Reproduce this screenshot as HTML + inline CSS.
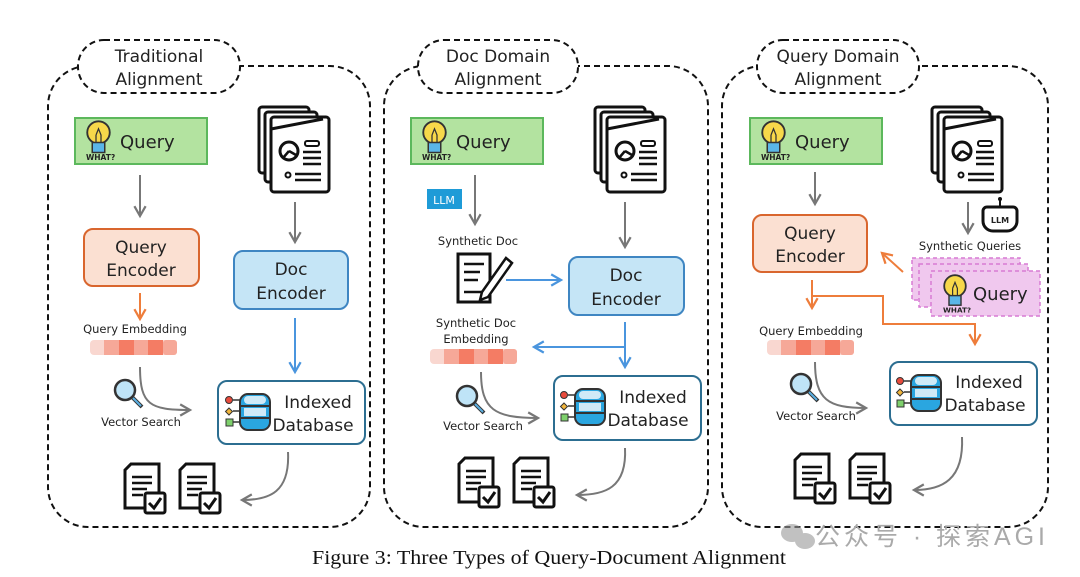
<!DOCTYPE html>
<html><head><meta charset="utf-8"><style>
html,body{margin:0;padding:0;background:#fff;width:1080px;height:577px;overflow:hidden}
svg text{font-family:"DejaVu Sans","Liberation Sans",sans-serif;fill:#222}
</style></head><body>
<svg width="1080" height="577" viewBox="0 0 1080 577" xmlns="http://www.w3.org/2000/svg">
<defs>
<marker id="ag" viewBox="0 0 10 10" refX="8" refY="5" markerWidth="7" markerHeight="7" orient="auto"><path d="M1,1 L8,5 L1,9" fill="none" stroke="#777" stroke-width="1.6"/></marker>
<marker id="ao" viewBox="0 0 10 10" refX="8" refY="5" markerWidth="7" markerHeight="7" orient="auto"><path d="M1,1 L8,5 L1,9" fill="none" stroke="#ee7d3b" stroke-width="1.6"/></marker>
<marker id="ab" viewBox="0 0 10 10" refX="8" refY="5" markerWidth="7" markerHeight="7" orient="auto"><path d="M1,1 L8,5 L1,9" fill="none" stroke="#4a95de" stroke-width="1.6"/></marker>
<g id="docs">
<rect x="2" y="2" width="50" height="66" rx="3" fill="#fff" stroke="#111" stroke-width="3"/>
<rect x="8" y="7" width="52" height="70" rx="3" fill="#fff" stroke="#111" stroke-width="3"/>
<rect x="14" y="12" width="58" height="75" rx="3" fill="#fff" stroke="#111" stroke-width="3"/>
<path d="M14,24 L66,14" stroke="#111" stroke-width="3" fill="none"/>
<circle cx="32" cy="46" r="9" fill="none" stroke="#111" stroke-width="3"/>
<path d="M32,46 L26,53 M32,46 L39,50" stroke="#111" stroke-width="2.5"/>
<rect x="48" y="36" width="14" height="5" rx="2" fill="none" stroke="#111" stroke-width="2"/>
<path d="M46,47 H64 M46,53 H64 M46,59 H64 M38,69 H64 M38,75 H64" stroke="#111" stroke-width="2.5"/>
<circle cx="31" cy="70" r="2.5" fill="none" stroke="#111" stroke-width="2"/>
</g>
<g id="dchk">
<path d="M2,8 L8,2 H36 V46 H2 Z" fill="#fff" stroke="#111" stroke-width="3"/>
<path d="M9,15 H29 M9,21 H29 M9,27 H24 M9,33 H20" stroke="#111" stroke-width="2.5"/>
<rect x="22" y="31" width="20" height="20" rx="2" fill="#fff" stroke="#111" stroke-width="3"/>
<path d="M26,41 L31,46 L38,36" fill="none" stroke="#111" stroke-width="3"/>
</g>
<g id="bulb">
<circle cx="10" cy="10" r="9" fill="#f7d84a" stroke="#333" stroke-width="1.5"/>
<rect x="5" y="18" width="10" height="8" fill="#5ab6e8" stroke="#333" stroke-width="1.2"/>
<path d="M8,12 L10,7 L12,12 V18 M8,12 V18" fill="none" stroke="#333" stroke-width="1"/>
<text x="0" y="32" font-size="6" font-weight="bold" style="fill:#222">WHAT?</text>
</g>
<g id="db">
<circle cx="3" cy="10" r="3.5" fill="#e84b3c" stroke="#333"/>
<path d="M3,18 l3.5,3.5 -3.5,3.5 -3.5,-3.5z" fill="#f2b63c" stroke="#333"/>
<rect x="0" y="29" width="7" height="7" fill="#7ed06c" stroke="#333"/>
<path d="M7,10 H14 M7,21 H14 M7,32 H14" stroke="#333" stroke-width="1.5"/>
<rect x="14" y="4" width="30" height="36" rx="8" fill="#2aa6e0" stroke="#333" stroke-width="2"/>
<path d="M14,16 H44 M14,28 H44" stroke="#333" stroke-width="2"/>
<rect x="18" y="6" width="22" height="8" rx="4" fill="#cfeaf7"/>
<rect x="18" y="18" width="22" height="8" fill="#cfeaf7"/>
</g>
<g id="mag">
<circle cx="12" cy="12" r="10" fill="#bfe4f7" stroke="#333" stroke-width="2.5"/>
<path d="M19,19 L29,29" stroke="#333" stroke-width="4"/>
<path d="M20,20 L28,28" stroke="#5aaee0" stroke-width="2"/>
</g>
<g id="emb">
<rect x="0" y="0" width="87" height="15" rx="4" fill="#f9d7d0"/>
<rect x="14" y="0" width="15" height="15" fill="#f6a898"/>
<rect x="29" y="0" width="15" height="15" fill="#f47c64"/>
<rect x="44" y="0" width="14" height="15" fill="#f6a898"/>
<rect x="58" y="0" width="15" height="15" fill="#f47c64"/>
<rect x="73" y="0" width="14" height="15" rx="3" fill="#f6a898"/>
</g>
</defs>

<g fill="none" stroke="#111" stroke-width="2" stroke-dasharray="6,4">
<rect x="48" y="66" width="322" height="461" rx="40"/>
<rect x="384" y="66" width="324" height="461" rx="40"/>
<rect x="722" y="66" width="326" height="461" rx="40"/>
</g>
<g fill="#fff" stroke="#111" stroke-width="2" stroke-dasharray="6,4">
<rect x="78" y="40" width="162" height="53" rx="26"/>
<rect x="418" y="40" width="160" height="53" rx="26"/>
<rect x="757" y="40" width="162" height="53" rx="26"/>
</g>
<g font-size="17" text-anchor="middle">
<text x="159" y="62">Traditional</text><text x="159" y="85">Alignment</text>
<text x="498" y="62">Doc Domain</text><text x="498" y="85">Alignment</text>
<text x="838" y="62">Query Domain</text><text x="838" y="85">Alignment</text>
</g>

<!-- Panel 1 -->
<rect x="75" y="118" width="132" height="46" fill="#b3e3a0" stroke="#5cb85c" stroke-width="2"/>
<use href="#bulb" transform="translate(86,120) scale(1.25)"/>
<text x="120" y="148" font-size="18">Query</text>
<line x1="140" y1="175" x2="140" y2="216" stroke="#777" stroke-width="2" marker-end="url(#ag)"/>
<rect x="84" y="229" width="115" height="57" rx="9" fill="#fbe0d2" stroke="#d9662e" stroke-width="2"/>
<text x="141" y="253" font-size="17" text-anchor="middle">Query</text><text x="141" y="276" font-size="17" text-anchor="middle">Encoder</text>
<line x1="140" y1="293" x2="140" y2="319" stroke="#ee7d3b" stroke-width="2" marker-end="url(#ao)"/>
<text x="135" y="333" font-size="11.5" text-anchor="middle">Query Embedding</text>
<use href="#emb" x="90" y="340"/>
<use href="#mag" x="113" y="378"/>
<path d="M140,367 C140,405 150,410 190,410" fill="none" stroke="#777" stroke-width="2" marker-end="url(#ag)"/>
<text x="141" y="426" font-size="11.5" text-anchor="middle">Vector Search</text>
<use href="#docs" x="257" y="105"/>
<line x1="295" y1="202" x2="295" y2="242" stroke="#777" stroke-width="2" marker-end="url(#ag)"/>
<rect x="234" y="251" width="114" height="58" rx="9" fill="#c5e5f6" stroke="#3f86c2" stroke-width="2"/>
<text x="291" y="275" font-size="17" text-anchor="middle">Doc</text><text x="291" y="299" font-size="17" text-anchor="middle">Encoder</text>
<line x1="295" y1="318" x2="295" y2="372" stroke="#4a95de" stroke-width="2" marker-end="url(#ab)"/>
<rect x="218" y="381" width="147" height="63" rx="9" fill="#fff" stroke="#2c6e91" stroke-width="2"/>
<use href="#db" x="226" y="390"/>
<text x="318" y="408" font-size="17" text-anchor="middle">Indexed</text><text x="313" y="431" font-size="17" text-anchor="middle">Database</text>
<path d="M288,452 C290,492 270,500 242,500" fill="none" stroke="#777" stroke-width="2" marker-end="url(#ag)"/>
<use href="#dchk" x="123" y="462"/><use href="#dchk" x="178" y="462"/>

<!-- Panel 2 -->
<rect x="411" y="118" width="132" height="46" fill="#b3e3a0" stroke="#5cb85c" stroke-width="2"/>
<use href="#bulb" transform="translate(422,120) scale(1.25)"/>
<text x="456" y="148" font-size="18">Query</text>
<rect x="427" y="189" width="35" height="20" fill="#1e9bd7"/>
<text x="444" y="204" font-size="11" text-anchor="middle" style="fill:#fff">LLM</text>
<line x1="475" y1="175" x2="475" y2="224" stroke="#777" stroke-width="2" marker-end="url(#ag)"/>
<text x="478" y="245" font-size="11.5" text-anchor="middle">Synthetic Doc</text>
<path d="M458,254 H490 V302 H458 Z" fill="#fff" stroke="#111" stroke-width="3"/>
<path d="M464,264 H484 M464,272 H480 M464,280 H478 M464,292 H484" stroke="#111" stroke-width="2.5"/>
<path d="M482,292 L506,258 L512,263 L488,297 L480,300 Z" fill="#fff" stroke="#111" stroke-width="2.5"/>
<line x1="506" y1="280" x2="561" y2="280" stroke="#4a95de" stroke-width="2" marker-end="url(#ab)"/>
<use href="#docs" x="593" y="105"/>
<line x1="625" y1="202" x2="625" y2="247" stroke="#777" stroke-width="2" marker-end="url(#ag)"/>
<rect x="569" y="257" width="115" height="58" rx="9" fill="#c5e5f6" stroke="#3f86c2" stroke-width="2"/>
<text x="626" y="281" font-size="17" text-anchor="middle">Doc</text><text x="626" y="305" font-size="17" text-anchor="middle">Encoder</text>
<line x1="625" y1="322" x2="625" y2="367" stroke="#4a95de" stroke-width="2" marker-end="url(#ab)"/>
<line x1="625" y1="347" x2="534" y2="347" stroke="#4a95de" stroke-width="2" marker-end="url(#ab)"/>
<text x="476" y="327" font-size="11.5" text-anchor="middle">Synthetic Doc</text>
<text x="476" y="343" font-size="11.5" text-anchor="middle">Embedding</text>
<use href="#emb" x="430" y="349"/>
<use href="#mag" x="455" y="384"/>
<path d="M481,372 C481,410 495,418 538,418" fill="none" stroke="#777" stroke-width="2" marker-end="url(#ag)"/>
<text x="483" y="430" font-size="11.5" text-anchor="middle">Vector Search</text>
<rect x="554" y="376" width="147" height="64" rx="9" fill="#fff" stroke="#2c6e91" stroke-width="2"/>
<use href="#db" x="561" y="385"/>
<text x="653" y="403" font-size="17" text-anchor="middle">Indexed</text><text x="648" y="426" font-size="17" text-anchor="middle">Database</text>
<path d="M625,448 C627,488 605,495 577,495" fill="none" stroke="#777" stroke-width="2" marker-end="url(#ag)"/>
<use href="#dchk" x="457" y="456"/><use href="#dchk" x="512" y="456"/>

<!-- Panel 3 -->
<rect x="750" y="118" width="132" height="46" fill="#b3e3a0" stroke="#5cb85c" stroke-width="2"/>
<use href="#bulb" transform="translate(761,120) scale(1.25)"/>
<text x="795" y="148" font-size="18">Query</text>
<line x1="815" y1="172" x2="815" y2="204" stroke="#777" stroke-width="2" marker-end="url(#ag)"/>
<rect x="753" y="215" width="114" height="57" rx="9" fill="#fbe0d2" stroke="#d9662e" stroke-width="2"/>
<text x="810" y="239" font-size="17" text-anchor="middle">Query</text><text x="810" y="262" font-size="17" text-anchor="middle">Encoder</text>
<use href="#docs" x="930" y="105"/>
<line x1="968" y1="202" x2="968" y2="233" stroke="#777" stroke-width="2" marker-end="url(#ag)"/>
<path d="M987,207 h26 a4,4 0 0 1 4,4 v10 a10,10 0 0 1 -10,10 h-14 a10,10 0 0 1 -10,-10 v-10 a4,4 0 0 1 4,-4z" fill="#fff" stroke="#111" stroke-width="3"/>
<line x1="1000" y1="207" x2="1000" y2="200" stroke="#111" stroke-width="2"/><circle cx="1000" cy="199" r="2" fill="#111"/>
<text x="1000" y="223" font-size="8" font-weight="bold" text-anchor="middle">LLM</text>
<text x="970" y="250" font-size="11.5" text-anchor="middle">Synthetic Queries</text>
<g fill="#f0c8ee" stroke="#d77ad4" stroke-width="1.5" stroke-dasharray="4,3">
<rect x="912" y="258" width="108" height="42"/>
<rect x="919" y="264" width="109" height="43"/>
<rect x="931" y="271" width="109" height="45"/>
</g>
<use href="#bulb" transform="translate(943,274) scale(1.2)"/>
<text x="973" y="300" font-size="18">Query</text>
<line x1="903" y1="272" x2="882" y2="253" stroke="#ee7d3b" stroke-width="2" marker-end="url(#ao)"/>
<line x1="812" y1="280" x2="812" y2="308" stroke="#ee7d3b" stroke-width="2" marker-end="url(#ao)"/>
<path d="M812,296 H883 V324 H975 V344" fill="none" stroke="#ee7d3b" stroke-width="2" marker-end="url(#ao)"/>
<text x="811" y="335" font-size="11.5" text-anchor="middle">Query Embedding</text>
<use href="#emb" x="767" y="340"/>
<use href="#mag" x="789" y="372"/>
<path d="M815,362 C815,400 828,408 866,408" fill="none" stroke="#777" stroke-width="2" marker-end="url(#ag)"/>
<text x="816" y="420" font-size="11.5" text-anchor="middle">Vector Search</text>
<rect x="890" y="362" width="147" height="63" rx="9" fill="#fff" stroke="#2c6e91" stroke-width="2"/>
<use href="#db" x="897" y="371"/>
<text x="989" y="388" font-size="17" text-anchor="middle">Indexed</text><text x="985" y="411" font-size="17" text-anchor="middle">Database</text>
<path d="M962,437 C964,480 942,490 914,490" fill="none" stroke="#777" stroke-width="2" marker-end="url(#ag)"/>
<use href="#dchk" x="793" y="452"/><use href="#dchk" x="848" y="452"/>

<g opacity="0.6">
<ellipse cx="792" cy="533" rx="11" ry="9" fill="#999"/><ellipse cx="805" cy="541" rx="10" ry="8" fill="#999"/>
</g>
<text x="815" y="545" font-size="25" textLength="230" style="fill:#aaa;font-family:'Liberation Sans','Noto Sans CJK SC',sans-serif">公众号 · 探索AGI</text>

<text x="312" y="564" font-size="20" textLength="474" lengthAdjust="spacingAndGlyphs" style="font-family:'Liberation Serif',serif;fill:#111">Figure 3: Three Types of Query-Document Alignment</text>
</svg>
</body></html>
